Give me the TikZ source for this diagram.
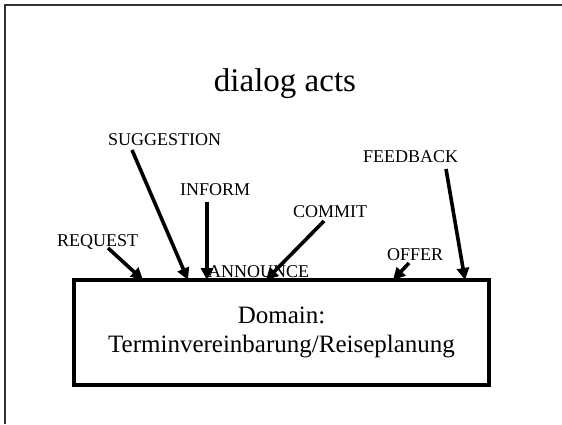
\documentclass[tikz,border=0pt]{standalone}
\usepackage{fontspec}
\setmainfont{Liberation Serif}
\usetikzlibrary{arrows.meta}
\begin{document}
\begin{tikzpicture}[x=1pt,y=-1pt,
  lbl/.style={anchor=base west,inner sep=0pt,font=\fontsize{18}{20}\selectfont},
  actarrow/.style={line width=3.6pt,-{Triangle[length=12pt,width=12pt]},shorten >=0pt},
  domainbox/.style={draw,line width=3.6pt,minimum width=415pt,minimum height=105pt,
    align=center,font=\fontsize{25}{29}\selectfont}]
  \useasboundingbox (0,0) rectangle (562,424);
  % slide frame
  \coordinate (fb) at (5,424);
  \coordinate (fc) at (5,5);
  \coordinate (fr) at (562,5);
  \draw[line width=1.4pt,black!80] (fb) -- (fc) -- (fr);
  % title
  \node[anchor=base,inner sep=0pt,font=\fontsize{33}{36}\selectfont] (title) at (285,91) {dialog acts};
  % domain box
  \node[domainbox] (dom) at (281.5,332.5) {Domain:\\Terminvereinbarung/Reiseplanung};
  % dialog act labels
  \node[lbl] (req) at (57,246) {REQUEST};
  \node[lbl] (sug) at (108,145) {SUGGESTION};
  \node[lbl] (inf) at (180,195) {INFORM};
  \node[lbl] (com) at (293,217) {COMMIT};
  \node[lbl] (off) at (387,260) {OFFER};
  \node[lbl] (fee) at (363,162) {FEEDBACK};
  \node[lbl] (ann) at (208,277) {ANNOUNCE};
  % arrow tails
  \coordinate (reqs) at (108,248);
  \coordinate (sugs) at (132,150);
  \coordinate (infs) at (207,202);
  \coordinate (coms) at (324,221);
  \coordinate (offs) at (409,263);
  \coordinate (fees) at (446,169);
  % arrow tips on the top edge of the box
  \coordinate (reqt) at (143,280);
  \coordinate (sugt) at (188,280);
  \coordinate (inft) at (207,280);
  \coordinate (comt) at (266,280);
  \coordinate (offt) at (393,280);
  \coordinate (feet) at (465,280);
  \draw[actarrow] (reqs) -- (reqt);
  \draw[actarrow] (sugs) -- (sugt);
  \draw[actarrow] (infs) -- (inft);
  \draw[actarrow] (coms) -- (comt);
  \draw[actarrow] (offs) -- (offt);
  \draw[actarrow] (fees) -- (feet);
\end{tikzpicture}
\end{document}
